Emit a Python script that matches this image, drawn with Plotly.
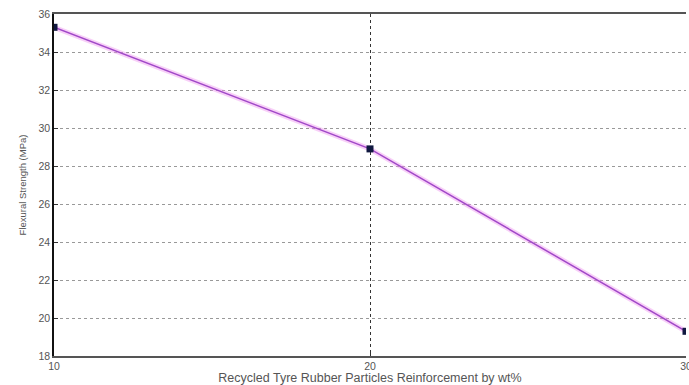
import plotly.graph_objects as go

rubber_wt = [10, 20, 30]
flexural_strength = [35.3, 28.9, 19.3]
x_ticks = [10, 20, 30]
y_ticks = [18, 20, 22, 24, 26, 28, 30, 32, 34, 36]

fig = go.Figure()
# soft glow under the line
fig.add_trace(go.Scatter(x=rubber_wt, y=flexural_strength, mode="lines",
                         line=dict(color="rgba(240,150,240,0.45)", width=5),
                         hoverinfo="skip", showlegend=False))
fig.add_trace(go.Scatter(x=rubber_wt, y=flexural_strength, mode="lines+markers",
                         line=dict(color="#a048c8", width=1.5),
                         marker=dict(symbol="square", size=7, color="#101840"),
                         showlegend=False))

fig.update_layout(
    width=689, height=385,
    margin=dict(l=54, r=3, t=14, b=29),
    paper_bgcolor="white", plot_bgcolor="white",
    font=dict(family="Liberation Sans, Arial, sans-serif", color="#444", size=10),
)
fig.update_xaxes(range=[10, 30], tickvals=x_ticks, ticktext=[str(v) for v in x_ticks],
                 showgrid=True, gridcolor="#333", griddash="dot", gridwidth=1,
                 showline=True, linecolor="#555", linewidth=1.5, mirror=True,
                 ticks="inside", ticklen=4, tickcolor="#333",
                 tickfont=dict(size=10.5, color="#555"), zeroline=False, automargin=False,
                 ticklabeloverflow="allow",
                 title=dict(text="Recycled Tyre Rubber Particles Reinforcement by wt%",
                            font=dict(size=12.5, color="#555"), standoff=2))
fig.update_yaxes(range=[18, 36], tickvals=y_ticks,
                 showgrid=True, gridcolor="#999", griddash="dot", gridwidth=1,
                 showline=True, linecolor="#111", linewidth=1.5,
                 ticks="inside", ticklen=4, tickcolor="#333",
                 tickfont=dict(size=10.5, color="#555"), zeroline=False, automargin=False,
                 title=dict(text="Flexural Strength (MPa)",
                            font=dict(size=9.5, color="#555"), standoff=10))

fig.write_html("out.html", post_script="document.body.style.margin='0';",
               config={"displayModeBar": False})
